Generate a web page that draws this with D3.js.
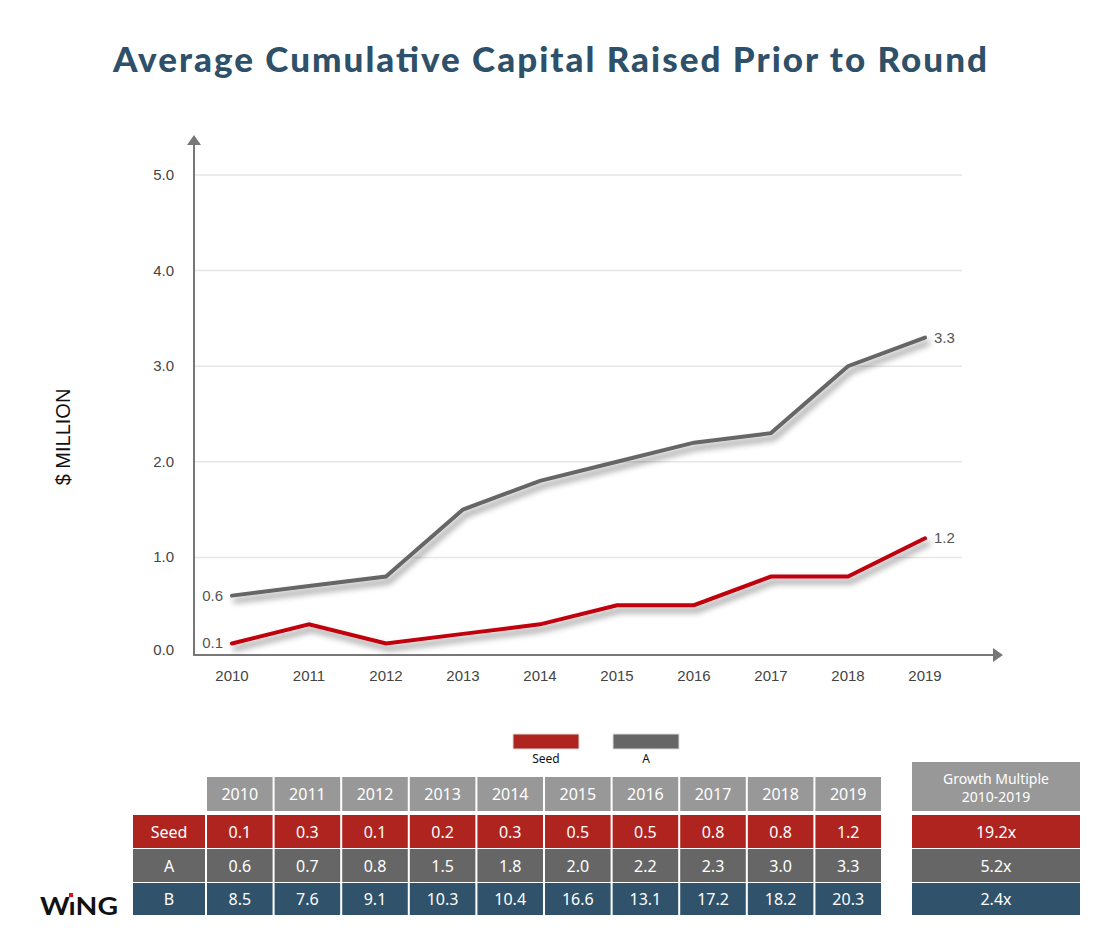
<!DOCTYPE html>
<html lang="en">
<head>
    <meta charset="UTF-8">
    <title>Average Cumulative Capital Raised Prior to Round</title>
    <script src="https://d3js.org/d3.v7.min.js"></script>
    <style>
        body {
            margin: 0;
            padding: 0;
            background-color: #fff;
        }
        svg text {
            font-family: "Liberation Sans", Arial, sans-serif;
        }
    </style>
</head>
<body>
    <svg id="chart" width="1100" height="940"></svg>

    <script>
        // Data
        const years = ["2010", "2011", "2012", "2013", "2014", "2015", "2016", "2017", "2018", "2019"];
        const seed = [0.1, 0.3, 0.1, 0.2, 0.3, 0.5, 0.5, 0.8, 0.8, 1.2];
        const seriesA = [0.6, 0.7, 0.8, 1.5, 1.8, 2.0, 2.2, 2.3, 3.0, 3.3];
        const seriesB = [8.5, 7.6, 9.1, 10.3, 10.4, 16.6, 13.1, 17.2, 18.2, 20.3];
        const growth = ["19.2x", "5.2x", "2.4x"];
        const yTicks = [0, 1, 2, 3, 4, 5];

        const colors = {
            seed: "#c0000f",
            a: "#666666",
            title: "#2e5069",
            header: "#989898",
            seedCell: "#b02420",
            aCell: "#666666",
            bCell: "#30526b"
        };

        const svg = d3.select("#chart");

        // Title
        svg.append("text")
            .attr("x", 550)
            .attr("y", 72)
            .attr("text-anchor", "middle")
            .style("font-family", "Lato, 'Open Sans', sans-serif")
            .style("font-weight", "900")
            .style("font-size", "35px")
            .attr("fill", colors.title)
            .attr("textLength", 874)
            .attr("lengthAdjust", "spacing")
            .text("Average Cumulative Capital Raised Prior to Round");

        // Scales
        const x = d3.scalePoint().domain(years).range([232, 925]);
        const y = d3.scaleLinear().domain([0, 5]).range([653, 175]);

        // Drop shadow filter
        const defs = svg.append("defs");
        const filter = defs.append("filter")
            .attr("id", "shadow")
            .attr("x", "-10%").attr("y", "-30%")
            .attr("width", "130%").attr("height", "180%");
        filter.append("feDropShadow")
            .attr("dx", 3)
            .attr("dy", 5)
            .attr("stdDeviation", 3)
            .attr("flood-color", "#000")
            .attr("flood-opacity", 0.45);

        // Gridlines
        svg.append("g")
            .selectAll("line")
            .data(yTicks.filter(d => d > 0))
            .enter().append("line")
            .attr("x1", 194)
            .attr("x2", 962)
            .attr("y1", d => y(d))
            .attr("y2", d => y(d))
            .attr("stroke", "#e6e6e6")
            .attr("stroke-width", 1.5);

        // Y tick labels
        svg.append("g")
            .selectAll("text")
            .data(yTicks)
            .enter().append("text")
            .attr("x", 174)
            .attr("y", d => d === 0 ? y(d) + 2 : y(d) + 5)
            .attr("text-anchor", "end")
            .style("font-size", "15px")
            .attr("fill", "#444")
            .text(d => d.toFixed(1));

        // X tick labels
        svg.append("g")
            .selectAll("text")
            .data(years)
            .enter().append("text")
            .attr("x", d => x(d))
            .attr("y", 681)
            .attr("text-anchor", "middle")
            .style("font-size", "15px")
            .attr("fill", "#444")
            .text(d => d);

        // Axes with arrows
        const axisColor = "#777";
        svg.append("line")
            .attr("x1", 194).attr("x2", 194)
            .attr("y1", 655).attr("y2", 142)
            .attr("stroke", axisColor).attr("stroke-width", 2);
        svg.append("path")
            .attr("d", "M187,145 L194,135 L201,145 Z")
            .attr("fill", axisColor);
        svg.append("line")
            .attr("x1", 193).attr("x2", 996)
            .attr("y1", 655).attr("y2", 655)
            .attr("stroke", axisColor).attr("stroke-width", 2);
        svg.append("path")
            .attr("d", "M993,648 L1003,655 L993,662 Z")
            .attr("fill", axisColor);

        // Y axis title
        svg.append("text")
            .attr("transform", "translate(70,437) rotate(-90)")
            .attr("text-anchor", "middle")
            .style("font-size", "20px")
            .attr("fill", "#111")
            .text("$ MILLION");

        // Lines
        const line = d3.line()
            .x((d, i) => x(years[i]))
            .y(d => y(d));

        const series = [
            { name: "A", values: seriesA, color: colors.a },
            { name: "Seed", values: seed, color: colors.seed }
        ];

        svg.append("g")
            .selectAll("path")
            .data(series)
            .enter().append("path")
            .attr("d", d => line(d.values))
            .attr("fill", "none")
            .attr("stroke", d => d.color)
            .attr("stroke-width", 4)
            .attr("stroke-linecap", "round")
            .attr("stroke-linejoin", "miter")
            .attr("filter", "url(#shadow)");

        // End labels
        series.forEach(s => {
            svg.append("text")
                .attr("x", x(years[0]) - 9)
                .attr("y", y(s.values[0]) + 5)
                .attr("text-anchor", "end")
                .style("font-size", "15px")
                .attr("fill", "#555")
                .text(s.values[0].toFixed(1));
            const last = s.values.length - 1;
            svg.append("text")
                .attr("x", x(years[last]) + 9)
                .attr("y", y(s.values[last]) + 5)
                .attr("text-anchor", "start")
                .style("font-size", "15px")
                .attr("fill", "#555")
                .text(s.values[last].toFixed(1));
        });

        // Legend
        const legend = [
            { name: "Seed", color: colors.seedCell, x: 513, w: 66 },
            { name: "A", color: colors.aCell, x: 613, w: 66 }
        ];
        const lg = svg.append("g")
            .selectAll("g")
            .data(legend)
            .enter().append("g");
        lg.append("rect")
            .attr("x", d => d.x)
            .attr("y", 734)
            .attr("width", d => d.w)
            .attr("height", 15)
            .attr("fill", d => d.color)
            .attr("stroke", "#ddd")
            .attr("stroke-width", 1);
        lg.append("text")
            .attr("x", d => d.x + d.w / 2)
            .attr("y", 763)
            .attr("text-anchor", "middle")
            .style("font-family", "'Noto Sans', sans-serif")
            .style("font-size", "12px")
            .attr("fill", "#111")
            .text(d => d.name);

        // Table
        const tableFont = "'Noto Sans', 'Open Sans', sans-serif";
        const colX = d3.scaleBand().domain(years).range([207, 881]).paddingInner(0.03);
        const rows = [
            { label: "Seed", values: seed, color: colors.seedCell, y: 815, h: 33 },
            { label: "A", values: seriesA, color: colors.aCell, y: 849, h: 33 },
            { label: "B", values: seriesB, color: colors.bCell, y: 883, h: 32 }
        ];
        const table = svg.append("g");

        // header row
        const hdr = table.selectAll("g.hdr")
            .data(years)
            .enter().append("g").attr("class", "hdr");
        hdr.append("rect")
            .attr("x", d => colX(d))
            .attr("y", 777)
            .attr("width", colX.bandwidth())
            .attr("height", 34)
            .attr("fill", colors.header);
        hdr.append("text")
            .attr("x", d => colX(d) + colX.bandwidth() / 2)
            .attr("y", 800)
            .attr("text-anchor", "middle")
            .style("font-family", tableFont)
            .style("font-size", "16px")
            .attr("fill", "#fff")
            .text(d => d);

        rows.forEach(r => {
            table.append("rect")
                .attr("x", 133)
                .attr("y", r.y)
                .attr("width", 72)
                .attr("height", r.h)
                .attr("fill", r.color);
            table.append("text")
                .attr("x", 169)
                .attr("y", r.y + r.h / 2 + 6)
                .attr("text-anchor", "middle")
                .style("font-family", tableFont)
                .style("font-size", "16px")
                .attr("fill", "#fff")
                .text(r.label);
            const cells = table.append("g")
                .selectAll("g")
                .data(r.values)
                .enter().append("g");
            cells.append("rect")
                .attr("x", (d, i) => colX(years[i]))
                .attr("y", r.y)
                .attr("width", colX.bandwidth())
                .attr("height", r.h)
                .attr("fill", r.color);
            cells.append("text")
                .attr("x", (d, i) => colX(years[i]) + colX.bandwidth() / 2)
                .attr("y", r.y + r.h / 2 + 6)
                .attr("text-anchor", "middle")
                .style("font-family", tableFont)
                .style("font-size", "16px")
                .attr("fill", "#fff")
                .text(d => d.toFixed(1));
        });

        // Growth multiple table
        table.append("rect")
            .attr("x", 912).attr("y", 762)
            .attr("width", 168).attr("height", 49)
            .attr("fill", colors.header);
        table.append("text")
            .attr("x", 996).attr("y", 784)
            .attr("text-anchor", "middle")
            .style("font-family", tableFont)
            .style("font-size", "14px")
            .attr("fill", "#fff")
            .text("Growth Multiple");
        table.append("text")
            .attr("x", 996).attr("y", 802)
            .attr("text-anchor", "middle")
            .style("font-family", tableFont)
            .style("font-size", "14px")
            .attr("fill", "#fff")
            .text("2010-2019");
        rows.forEach((r, i) => {
            table.append("rect")
                .attr("x", 912).attr("y", r.y)
                .attr("width", 168).attr("height", r.h)
                .attr("fill", r.color);
            table.append("text")
                .attr("x", 996).attr("y", r.y + r.h / 2 + 6)
                .attr("text-anchor", "middle")
                .style("font-family", tableFont)
                .style("font-size", "16px")
                .attr("fill", "#fff")
                .text(growth[i]);
        });

        // Logo
        const logo = svg.append("text")
            .attr("x", 40)
            .attr("y", 915)
            .style("font-family", "Lato, sans-serif")
            .style("font-weight", "bold")
            .style("font-size", "25px")
            .attr("fill", "#111")
            .attr("textLength", 78)
            .attr("lengthAdjust", "spacingAndGlyphs");
        logo.append("tspan").text("W");
        logo.append("tspan").text("\u0131");
        logo.append("tspan").text("NG");
        svg.append("rect")
            .attr("x", 69)
            .attr("y", 893)
            .attr("width", 4)
            .attr("height", 4)
            .attr("fill", "#d7141a");
    </script>
</body>
</html>
